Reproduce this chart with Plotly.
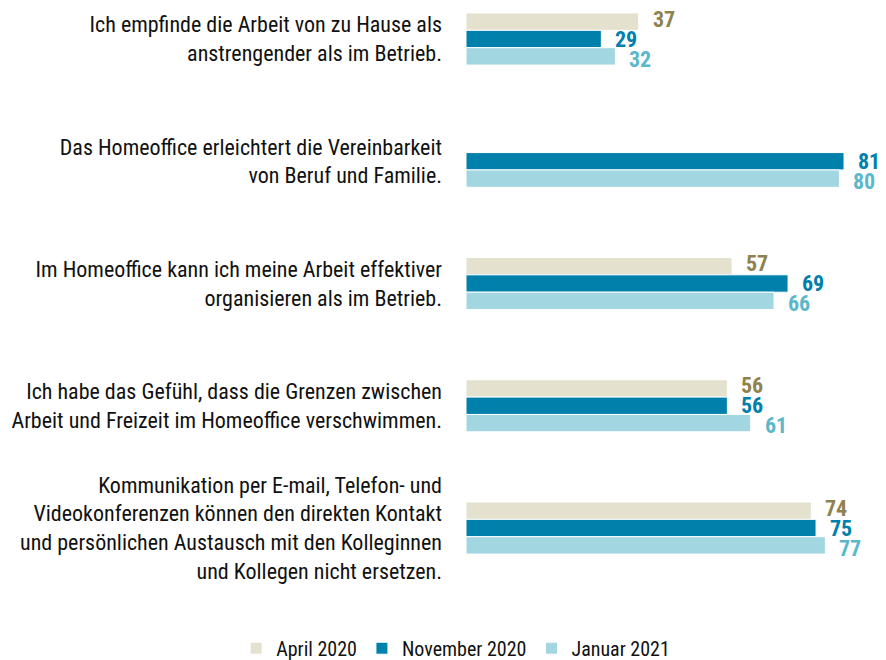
import plotly.graph_objects as go

categories = [
    "Ich empfinde die Arbeit von zu Hause als<br>anstrengender als im Betrieb.",
    "Das Homeoffice erleichtert die Vereinbarkeit<br>von Beruf und Familie.",
    "Im Homeoffice kann ich meine Arbeit effektiver<br>organisieren als im Betrieb.",
    "Ich habe das Gefühl, dass die Grenzen zwischen<br>Arbeit und Freizeit im Homeoffice verschwimmen.",
    "Kommunikation per E-mail, Telefon- und<br>Videokonferenzen können den direkten Kontakt<br>und persönlichen Austausch mit den Kolleginnen<br>und Kollegen nicht ersetzen.",
]
series_names = ["April 2020", "November 2020", "Januar 2021"]
april_2020 = [37, None, 57, 56, 74]
november_2020 = [29, 81, 69, 56, 75]
januar_2021 = [32, 80, 66, 61, 77]

values = [april_2020, november_2020, januar_2021]
bar_colors = ["#E4E2CF", "#0080AA", "#A2D6E0"]
label_colors = ["#8F824E", "#0080AA", "#5BB8CB"]
label_yshift = [20, 0, -20]

FONT = "Roboto Condensed, Arial Narrow, Liberation Sans, Arial, sans-serif"

fig = go.Figure()
for name, vals, col in zip(series_names, values, bar_colors):
    fig.add_trace(go.Bar(
        y=categories, x=vals, name=name, orientation="h",
        marker=dict(color=col, line=dict(color="white", width=1)),
        hoverinfo="x+name",
    ))

for vals, lc, ys in zip(values, label_colors, label_yshift):
    for cat, v in zip(categories, vals):
        if v is None:
            continue
        fig.add_annotation(
            x=v, y=cat, text=f"<b>{v}</b>", showarrow=False,
            xanchor="left", yanchor="middle", xshift=12, yshift=ys,
            font=dict(family=FONT, size=22, color=lc),
        )

fig.update_layout(
    width=886, height=660,
    margin=dict(l=458, r=0, t=0, b=60),
    barmode="group", bargap=0.574, bargroupgap=0,
    plot_bgcolor="white", paper_bgcolor="white",
    font=dict(family=FONT, size=22, color="#111111"),
    showlegend=True,
    legend=dict(orientation="h", xref="paper", x=-0.537, xanchor="left",
                yref="container", y=0.03, yanchor="middle",
                font=dict(family=FONT, size=20, color="#111111"),
                itemwidth=30, traceorder="normal"),
    xaxis=dict(range=[0, 91.7], visible=False, fixedrange=True),
    yaxis=dict(range=[4.654, -0.2536], showgrid=False, zeroline=False,
               showline=False, ticks="", ticklabelstandoff=23,
               tickfont=dict(family=FONT, size=22, color="#111111")),
)
fig.write_html("out.html")
